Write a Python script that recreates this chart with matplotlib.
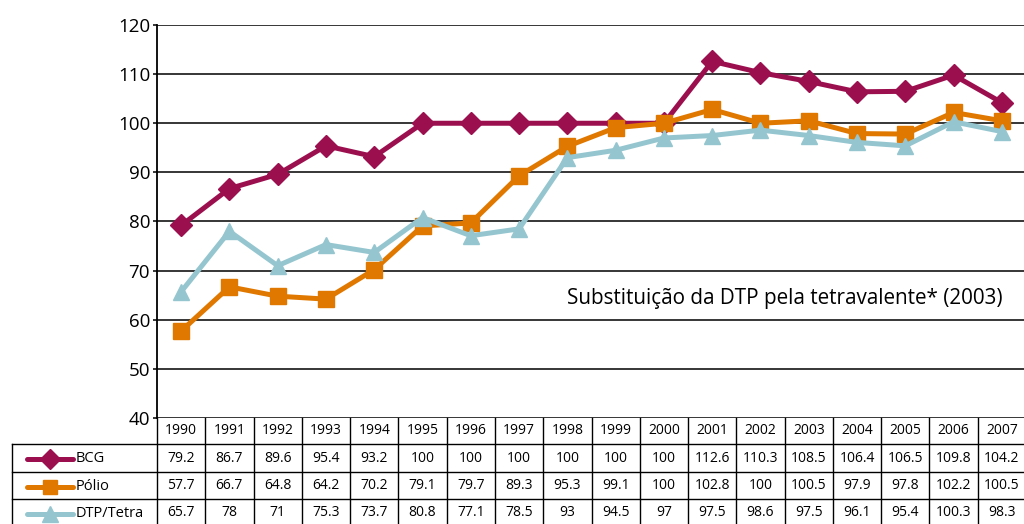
import matplotlib.pyplot as plt
import matplotlib.transforms as mtransforms
import numpy as np

years = list(range(1990, 2008))
bcg = [79.2, 86.7, 89.6, 95.4, 93.2, 100, 100, 100, 100, 100, 100,
       112.6, 110.3, 108.5, 106.4, 106.5, 109.8, 104.2]
polio = [57.7, 66.7, 64.8, 64.2, 70.2, 79.1, 79.7, 89.3, 95.3, 99.1, 100,
         102.8, 100, 100.5, 97.9, 97.8, 102.2, 100.5]
dtp = [65.7, 78, 71, 75.3, 73.7, 80.8, 77.1, 78.5, 93, 94.5, 97,
       97.5, 98.6, 97.5, 96.1, 95.4, 100.3, 98.3]

series = [
    ("BCG", bcg, "#9c0f4f", "D", 11),
    ("P\u00f3lio", polio, "#e07800", "s", 11),
    ("DTP/Tetra", dtp, "#95c6d0", "^", 12),
]
yticks = [40, 50, 60, 70, 80, 90, 100, 110, 120]
note = "Substitui\u00e7\u00e3o da DTP pela tetravalente* (2003)"

plt.rcParams["font.family"] = ["Open Sans", "DejaVu Sans"]

W, H = 1024, 524
fig = plt.figure(figsize=(W / 100, H / 100), dpi=100)
ax = fig.add_axes([157 / W, 1 - 418 / H, (1026 - 157) / W, (418 - 25) / H])

x = np.arange(len(years))
for name, vals, col, mk, ms in series:
    ax.plot(x, vals, color=col, lw=3.6, marker=mk, ms=ms, zorder=3,
            clip_on=False, solid_joinstyle="round")

ax.set_xlim(-0.5, len(years) - 0.5)
ax.set_ylim(40, 120)
ax.set_yticks(yticks)
ax.set_xticks([])
ax.grid(axis="y", color="black", lw=1.1)
ax.set_axisbelow(True)
for s in ["top", "right", "bottom"]:
    ax.spines[s].set_visible(False)
ax.spines["left"].set_linewidth(1.3)
ax.tick_params(axis="y", length=3, width=1.1, labelsize=13.5, pad=2)

ax.text(0.9735, 0.305, note, transform=ax.transAxes, ha="right", va="center",
        fontsize=14.9)

# data table under the chart
tr = mtransforms.blended_transform_factory(ax.transData, fig.transFigure)


def fy(py):
    return 1 - py / H


row_tops = [418, 444, 472, 499, 526]
lw = 1.0
for py in row_tops[1:4]:
    fig.add_artist(plt.Line2D([12 / W, 1], [fy(py)] * 2, color="black", lw=lw))
fig.add_artist(plt.Line2D([12 / W] * 2, [fy(444), 0], color="black", lw=lw))
for i in range(len(years) + 1):
    fig.add_artist(plt.Line2D([i - 0.5, i - 0.5], [fy(418), 0], transform=tr,
                              color="black", lw=lw))

centers = [(row_tops[k] + row_tops[k + 1]) / 2 for k in range(4)]
for i, yr in enumerate(years):
    fig.text(i, fy(centers[0]), str(yr), transform=tr, ha="center",
             va="center", fontsize=10)
    for k, (name, vals, col, mk, ms) in enumerate(series):
        fig.text(i, fy(centers[k + 1]), f"{vals[i]:g}", transform=tr,
                 ha="center", va="center", fontsize=10)

for k, (name, vals, col, mk, ms) in enumerate(series):
    cy = fy(centers[k + 1] + 1)
    fig.add_artist(plt.Line2D([27 / W, 73 / W], [cy, cy], color=col, lw=3.6,
                              solid_capstyle="round"))
    fig.add_artist(plt.Line2D([50 / W], [cy], color=col, marker=mk,
                              ms=ms - 1, lw=0))
    fig.text(76 / W, cy, name, ha="left", va="center", fontsize=10.5)

fig.savefig("out.png", dpi=100)
